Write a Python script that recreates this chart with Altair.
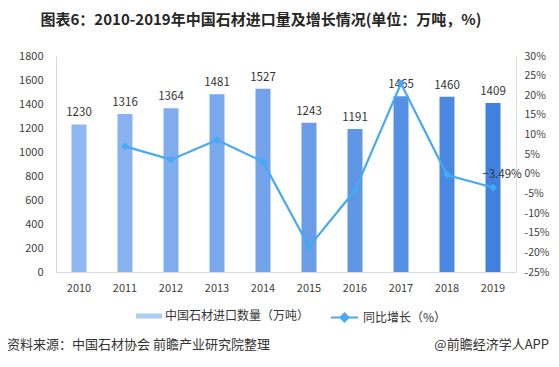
import altair as alt
import pandas as pd

years = ["2010", "2011", "2012", "2013", "2014", "2015", "2016", "2017", "2018", "2019"]
imports = [1230, 1316, 1364, 1481, 1527, 1243, 1191, 1465, 1460, 1409]
growth_years = ["2011", "2012", "2013", "2014", "2015", "2016", "2017", "2018", "2019"]
growth = [7.0, 3.6, 8.6, 3.1, -18.6, -4.2, 23.0, -0.3, -3.49]
bar_colors = ["#8fb8f2", "#88b3f0", "#80adee", "#79a8ec", "#71a2ea",
              "#6a9ce8", "#5f96e6", "#5690e4", "#4b88e2", "#4080df"]
left_ticks = [0, 200, 400, 600, 800, 1000, 1200, 1400, 1600, 1800]
right_ticks = [-25, -20, -15, -10, -5, 0, 5, 10, 15, 20, 25, 30]

bar_label = "中国石材进口数量（万吨）"
line_label = "同比增长（%）"
line_color = "#47a9f2"
FONT = "Noto Sans CJK SC"

df_bar = pd.DataFrame({"year": years, "value": imports})
df_line = pd.DataFrame({"year": growth_years, "growth": growth})

x_enc = alt.X("year:N", sort=years, title=None,
              scale=alt.Scale(domain=years, paddingInner=0, paddingOuter=0),
              axis=alt.Axis(labelAngle=0, ticks=False, domainColor="#d9d9d9",
                            labelPadding=10, labelFontSize=11, labelColor="#404040",
                            labelOverlap=False))

y_left = alt.Y("value:Q", title=None,
               scale=alt.Scale(domain=[0, 1800], nice=False),
               axis=alt.Axis(values=left_ticks, grid=False, ticks=False,
                             domainColor="#d9d9d9", labelPadding=13, format="d",
                             labelOverlap=False, labelFontSize=11, labelColor="#404040"))

y_right = alt.Y("growth:Q", title=None,
                scale=alt.Scale(domain=[-25, 30], nice=False),
                axis=alt.Axis(orient="right", values=right_ticks, grid=False,
                              ticks=False, domainColor="#d9d9d9", labelPadding=8,
                              labelOverlap=False,
                              labelExpr="datum.value + '%'", labelFontSize=10.5,
                              labelColor="#404040"))

bars = alt.Chart(df_bar).mark_bar(size=15).encode(
    x=x_enc,
    y=y_left,
    fill=alt.Fill("year:N", scale=alt.Scale(domain=years, range=bar_colors), legend=None),
)

bar_text = alt.Chart(df_bar).mark_text(baseline="bottom", dy=-6, fontSize=11.5,
                                       color="#333333", font=FONT).encode(
    x=x_enc,
    y=y_left,
    text="value:Q",
)

bar_legend = alt.Chart(df_bar).transform_calculate(
    series="'" + bar_label + "'"
).transform_filter("false").mark_square().encode(
    color=alt.Color("series:N",
                    scale=alt.Scale(domain=[bar_label], range=["#8db6f0"]),
                    legend=alt.Legend(orient="none", legendX=80, legendY=247, title=None,
                                      symbolType="M-1,-0.2H1V0.2H-1Z", symbolSize=676,
                                      symbolStrokeWidth=0, labelFontSize=12,
                                      labelFont=FONT, labelColor="#333333", labelOffset=3)),
)

left = alt.layer(bars, bar_text, bar_legend)

line_color_enc = alt.Color("series:N",
                           scale=alt.Scale(domain=[line_label], range=[line_color]),
                           legend=alt.Legend(orient="none", legendX=274, legendY=247, title=None,
                                             symbolType="M-1,0H1M0,-0.3L0.3,0L0,0.3L-0.3,0Z",
                                             symbolSize=729, symbolStrokeWidth=2,
                                             symbolFillColor=line_color,
                                             labelFontSize=12, labelFont=FONT,
                                             labelColor="#333333", labelOffset=4))

line_base = alt.Chart(df_line).transform_calculate(series="'" + line_label + "'")

line = line_base.mark_line(strokeWidth=2.2).encode(
    x=x_enc,
    y=y_right,
    color=line_color_enc,
)
points = line_base.mark_point(shape="diamond", filled=True, size=60, opacity=1).encode(
    x=x_enc,
    y=y_right,
    color=line_color_enc,
)
line_text = line_base.transform_filter("datum.year == '2019'").transform_calculate(
    lbl="format(datum.growth, '.2f') + '%'"
).mark_text(
    dx=9, dy=-13, fontSize=11.5, color="#333333", font=FONT
).encode(
    x=x_enc,
    y=y_right,
    text="lbl:N",
)

right = alt.layer(line, points, line_text)

source = alt.Chart(df_bar).transform_filter("datum.year == '2010'").mark_text(
    align="left", baseline="middle", fontSize=13, color="#333333", font=FONT
).encode(x=alt.value(-49), y=alt.value(289),
         text=alt.value("资料来源：中国石材协会 前瞻产业研究院整理"))
brand = alt.Chart(df_bar).transform_filter("datum.year == '2010'").mark_text(
    align="right", baseline="middle", fontSize=13, color="#333333", font=FONT
).encode(x=alt.value(493), y=alt.value(289), text=alt.value("@前瞻经济学人APP"))

chart = alt.layer(left, right, source, brand).resolve_scale(
    y="independent", color="independent"
).properties(
    width=460, height=216,
    padding={"left": 48, "top": 48, "right": 35, "bottom": 84},
    autosize=alt.AutoSizeParams(type="none"),
    title=alt.TitleParams("图表6：2010-2019年中国石材进口量及增长情况(单位：万吨，%)",
                          anchor="middle", dx=-25, offset=22, fontSize=15,
                          fontWeight="bold", font=FONT, color="#262626"),
).configure_view(stroke=None).configure_axis(labelFont=FONT, labelOverlap=False)

chart.save("out.html", embed_options={"renderer": "svg", "actions": False})
